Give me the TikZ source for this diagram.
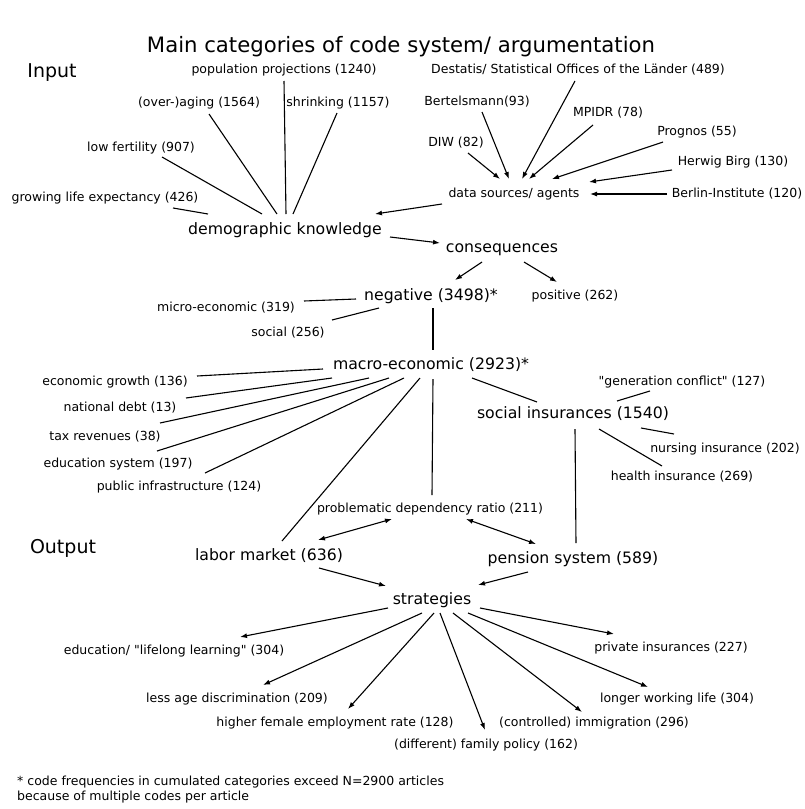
\documentclass[tikz,border=0pt]{standalone}
\usepackage{fontspec}
\setmainfont{DejaVu Sans}
\newfontfamily\dv{DejaVu Sans}
\usetikzlibrary{arrows.meta}
\begin{document}
\begin{tikzpicture}[x=1pt,y=-1pt,
 lbl/.style={inner sep=0pt,font=\dv\fontsize{12.5}{14}\selectfont},
 mid/.style={inner sep=0pt,font=\dv\fontsize{15.7}{18}\selectfont},
 big/.style={inner sep=0pt,font=\dv\fontsize{19}{22}\selectfont},
 ttl/.style={inner sep=0pt,font=\dv\fontsize{21.2}{25}\selectfont},
 ln/.style={line width=1.1pt},
 arr/.style={ln,-{Latex[length=7pt,width=5pt]}},
 darr/.style={ln,{Latex[length=7pt,width=5pt]}-{Latex[length=7pt,width=5pt]}}]
\useasboundingbox (0,0) rectangle (805,809);
\fill[white] (0,0) rectangle (805,809);
% titles
\node[ttl] (title) at (401,47) {Main categories of code system/ argumentation};
\node[big] (input) at (52,73) {Input};
\node[big] (output) at (63,548) {Output};
% input side
\node[lbl] (pp) at (284,70) {population projections (1240)};
\node[lbl] (oa) at (199,103) {(over-)aging (1564)};
\node[lbl] (sh) at (338,103) {shrinking (1157)};
\node[lbl] (lf) at (141,148) {low fertility (907)};
\node[lbl] (gle) at (105,198) {growing life expectancy (426)};
\node[mid] (dk) at (285,230) {demographic knowledge};
% data sources
\node[lbl] (dest) at (578,70) {Destatis/ Statistical Offices of the Länder (489)};
\node[lbl] (bert) at (477,102) {Bertelsmann(93)};
\node[lbl] (mpidr) at (608,113) {MPIDR (78)};
\node[lbl] (diw) at (456,143) {DIW (82)};
\node[lbl] (prog) at (697,132) {Prognos (55)};
\node[lbl] (herwig) at (733,162) {Herwig Birg (130)};
\node[lbl] (ds) at (514,194) {data sources/ agents};
\node[lbl] (berlin) at (737,194) {Berlin-Institute (120)};
% consequences
\node[mid] (cons) at (502,250) {consequences};
\node[mid] (neg) at (431,296) {negative (3498)*};
\node[lbl] (pos) at (575,296) {positive (262)};
\node[lbl] (micro) at (226,308) {micro-economic (319)};
\node[lbl] (social) at (288,333) {social (256)};
\node[mid] (macro) at (431,365) {macro-economic (2923)*};
\node[lbl] (ecg) at (115,382) {economic growth (136)};
\node[lbl] (nd) at (120,408) {national debt (13)};
\node[lbl] (tax) at (105,437) {tax revenues (38)};
\node[lbl] (edu) at (118,464) {education system (197)};
\node[lbl] (pi) at (179,487) {public infrastructure (124)};
\node[mid] (si) at (573,414) {social insurances (1540)};
\node[lbl] (gc) at (682,382) {"generation conflict" (127)};
\node[lbl] (ni) at (725,449) {nursing insurance (202)};
\node[lbl] (hi) at (682,477) {health insurance (269)};
\node[lbl] (pdr) at (430,509) {problematic dependency ratio (211)};
\node[mid] (lm) at (269,556) {labor market (636)};
\node[mid] (ps) at (573,559) {pension system (589)};
\node[mid] (strat) at (432,600) {strategies};
% strategies
\node[lbl] (edul) at (174,651) {education/ "lifelong learning" (304)};
\node[lbl] (priv) at (671,648) {private insurances (227)};
\node[lbl] (lad) at (237,699) {less age discrimination (209)};
\node[lbl] (lwl) at (677,699) {longer working life (304)};
\node[lbl] (hfe) at (335,723) {higher female employment rate (128)};
\node[lbl] (ci) at (594,723) {(controlled) immigration (296)};
\node[lbl] (fam) at (486,745) {(different) family policy (162)};
% footnote
\node[lbl,anchor=west,align=left,font=\dv\fontsize{12.5}{15}\selectfont] (foot) at (17,789.5)
 {* code frequencies in cumulated categories exceed N=2900 articles\\because of multiple codes per article};

% input connectors
\draw[ln] ([shift={(68,10)}]gle.center) -- ([shift={(-77,-16)}]dk.center);
\draw[ln] ([shift={(21,9)}]lf.center) -- ([shift={(-23,-16)}]dk.center);
\draw[ln] ([shift={(10,11)}]oa.center) -- ([shift={(-8,-16)}]dk.center);
\draw[ln] ([shift={(0,11)}]pp.center) -- ([shift={(1,-16)}]dk.center);
\draw[ln] ([shift={(-1,10)}]sh.center) -- ([shift={(8,-16)}]dk.center);
\draw[arr] ([shift={(-72,10)}]ds.center) -- ([shift={(90,-16)}]dk.center);
% data sources
\draw[arr] ([shift={(12,10)}]diw.center) -- ([shift={(-14,-15)}]ds.center);
\draw[arr] ([shift={(5,10)}]bert.center) -- ([shift={(-5,-15)}]ds.center);
\draw[arr] ([shift={(-3,11)}]dest.center) -- ([shift={(8,-15)}]ds.center);
\draw[arr] ([shift={(-15,12)}]mpidr.center) -- ([shift={(15,-15)}]ds.center);
\draw[arr] ([shift={(-34,10)}]prog.center) -- ([shift={(38,-15)}]ds.center);
\draw[arr] ([shift={(-61,8)}]herwig.center) -- ([shift={(75,-12)}]ds.center);
\draw[arr] ([shift={(-70,0)}]berlin.center) -- ([shift={(76,0)}]ds.center);
% consequences
\draw[arr] ([shift={(105,7)}]dk.center) -- ([shift={(-62,-7)}]cons.center);
\draw[arr] ([shift={(-20,12)}]cons.center) -- ([shift={(24,-16)}]neg.center);
\draw[arr] ([shift={(22,12)}]cons.center) -- ([shift={(-18,-14)}]pos.center);
\draw[ln] ([shift={(-75,3)}]neg.center) -- ([shift={(78,-7)}]micro.center);
\draw[ln] ([shift={(-52,12)}]neg.center) -- ([shift={(44,-13)}]social.center);
\draw[ln] ([shift={(2,12)}]neg.center) -- ([shift={(2,-15)}]macro.center);
% macro
\draw[ln] ([shift={(-108,4)}]macro.center) -- ([shift={(82,-6)}]ecg.center);
\draw[ln] ([shift={(-99,13)}]macro.center) -- ([shift={(66,-10)}]nd.center);
\draw[ln] ([shift={(-62,13)}]macro.center) -- ([shift={(55,-14)}]tax.center);
\draw[ln] ([shift={(-42,13)}]macro.center) -- ([shift={(39,-13)}]edu.center);
\draw[ln] ([shift={(-27,13)}]macro.center) -- ([shift={(26,-14)}]pi.center);
\draw[ln] ([shift={(-11,13)}]macro.center) -- ([shift={(13,-15)}]lm.center);
\draw[ln] ([shift={(2,14)}]macro.center) -- ([shift={(2,-14)}]pdr.center);
\draw[ln] ([shift={(41,13)}]macro.center) -- ([shift={(-36,-12)}]si.center);
% social insurances
\draw[ln] ([shift={(44,-13)}]si.center) -- ([shift={(-32,9)}]gc.center);
\draw[ln] ([shift={(68,14)}]si.center) -- ([shift={(-51,-15)}]ni.center);
\draw[ln] ([shift={(26,15)}]si.center) -- ([shift={(-20,-11)}]hi.center);
\draw[ln] ([shift={(2,15)}]si.center) -- ([shift={(3,-16)}]ps.center);
% dependency ratio
\draw[darr] ([shift={(-38,10)}]pdr.center) -- ([shift={(49,-16)}]lm.center);
\draw[darr] ([shift={(36,10)}]pdr.center) -- ([shift={(-37,-15)}]ps.center);
\draw[arr] ([shift={(50,12)}]lm.center) -- ([shift={(-46,-14)}]strat.center);
\draw[arr] ([shift={(-45,13)}]ps.center) -- ([shift={(46,-15)}]strat.center);
% strategies
\draw[arr] ([shift={(-44,8)}]strat.center) -- ([shift={(66,-14)}]edul.center);
\draw[arr] ([shift={(-10,13)}]strat.center) -- ([shift={(26,-14)}]lad.center);
\draw[arr] ([shift={(2,13)}]strat.center) -- ([shift={(13,-14)}]hfe.center);
\draw[arr] ([shift={(8,13)}]strat.center) -- ([shift={(-1,-15)}]fam.center);
\draw[arr] ([shift={(21,13)}]strat.center) -- ([shift={(-12,-11)}]ci.center);
\draw[arr] ([shift={(36,13)}]strat.center) -- ([shift={(-29,-12)}]lwl.center);
\draw[arr] ([shift={(48,8)}]strat.center) -- ([shift={(-57,-14)}]priv.center);
\end{tikzpicture}
\end{document}
